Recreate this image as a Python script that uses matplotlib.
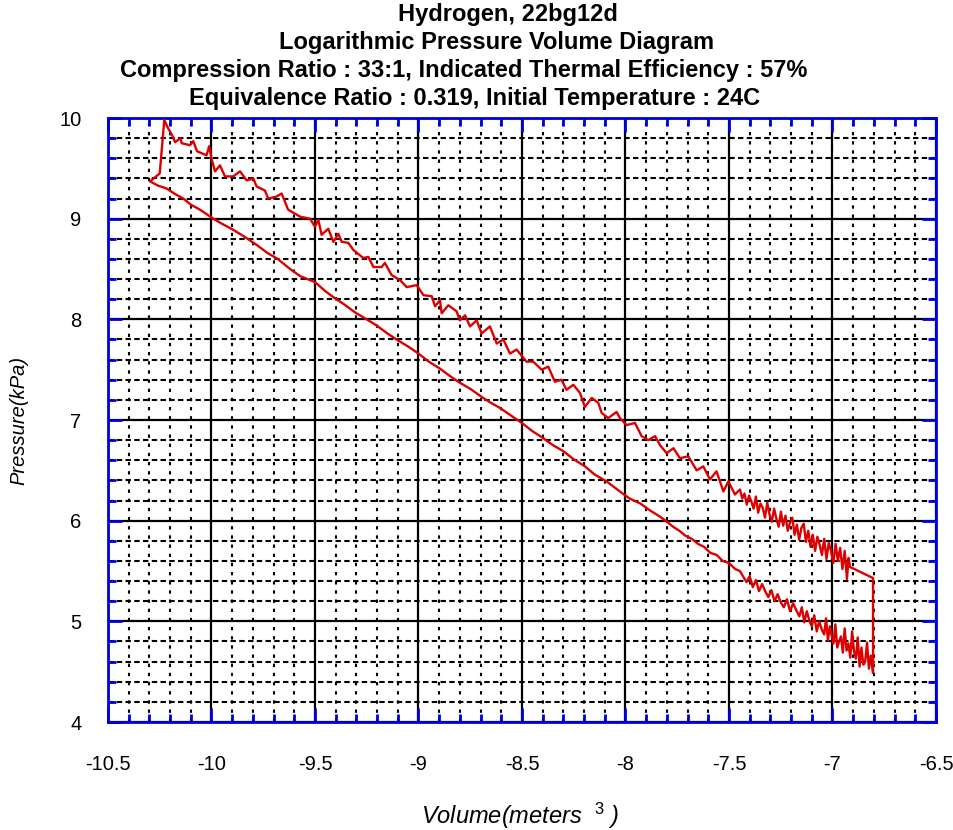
import numpy as np
import matplotlib
matplotlib.use('Agg')
import matplotlib.pyplot as plt
from matplotlib.ticker import MultipleLocator

plt.rcParams['font.family'] = ['Liberation Sans', 'DejaVu Sans']
plt.rcParams['axes.unicode_minus'] = False
plt.rcParams['mathtext.fontset'] = 'custom'
plt.rcParams['mathtext.rm'] = 'Liberation Sans'
plt.rcParams['mathtext.it'] = 'Liberation Sans:italic'

# Compresion, extremo derecho ruidoso (de derecha a izquierda)
comp_noisy_v = [-6.804, -6.815, -6.824, -6.833, -6.842, -6.851, -6.860, -6.869, -6.878,
                -6.887, -6.896, -6.905, -6.914, -6.923, -6.932, -6.941, -6.950, -6.959,
                -6.968, -6.977, -6.986, -6.995, -7.004, -7.013, -7.022, -7.031, -7.040,
                -7.052, -7.064, -7.076, -7.088, -7.100, -7.112, -7.124, -7.136, -7.148,
                -7.160, -7.175, -7.190, -7.205, -7.220, -7.235, -7.250, -7.265, -7.280,
                -7.295, -7.310, -7.325, -7.340, -7.355, -7.370, -7.385, -7.400, -7.415,
                -7.430, -7.447]
comp_noisy_p = [4.49, 4.66, 4.53, 4.79, 4.60, 4.57, 4.74, 4.55, 4.84, 4.63,
                4.70, 4.90, 4.64, 4.78, 4.71, 4.93, 4.69, 4.85, 4.80, 4.74,
                4.97, 4.78, 4.86, 4.95, 4.81, 5.03, 4.87, 4.92, 5.00, 4.90,
                5.06, 4.95, 5.01, 5.10, 4.99, 5.14, 5.05, 5.11, 5.18, 5.10,
                5.22, 5.14, 5.19, 5.27, 5.20, 5.31, 5.24, 5.30, 5.37, 5.30,
                5.41, 5.34, 5.45, 5.39, 5.44, 5.50]

# Compresion, resto de la curva
comp_v = [-7.470, -7.500, -7.530, -7.560, -7.590, -7.620, -7.650, -7.680, -7.710,
          -7.740, -7.770, -7.800, -7.833, -7.880, -7.928, -7.980, -8.027, -8.091,
          -8.150, -8.196, -8.250, -8.300, -8.350, -8.405, -8.450, -8.500, -8.550,
          -8.606, -8.650, -8.695, -8.750, -8.800, -8.850, -8.896, -8.950, -9.000,
          -9.050, -9.106, -9.150, -9.203, -9.250, -9.307, -9.360, -9.411, -9.450,
          -9.500, -9.572, -9.620, -9.680, -9.730, -9.782, -9.840, -9.895, -9.950,
          -9.991, -10.056, -10.100, -10.136, -10.180, -10.217, -10.260, -10.297]
comp_p = [5.52, 5.58, 5.60, 5.66, 5.68, 5.74, 5.77, 5.82, 5.85,
          5.90, 5.94, 5.99, 6.04, 6.10, 6.17, 6.22, 6.29, 6.39,
          6.46, 6.54, 6.61, 6.69, 6.75, 6.83, 6.89, 6.97, 7.04,
          7.12, 7.17, 7.23, 7.31, 7.37, 7.44, 7.51, 7.58, 7.66,
          7.73, 7.80, 7.86, 7.94, 8.00, 8.07, 8.15, 8.22, 8.28,
          8.37, 8.43, 8.50, 8.60, 8.66, 8.74, 8.82, 8.89, 8.95,
          9.00, 9.09, 9.14, 9.20, 9.25, 9.30, 9.33, 9.37]

# Combustion y expansion (de izquierda a derecha)
exp_v = [-10.250, -10.228, -10.210, -10.190, -10.176, -10.150, -10.144, -10.104,
         -10.088, -10.070, -10.024, -10.011, -10.000, -9.983, -9.959, -9.935,
         -9.895, -9.862, -9.830, -9.798, -9.782, -9.742, -9.726, -9.686, -9.661,
         -9.630, -9.572, -9.524, -9.500, -9.484, -9.468, -9.436, -9.411, -9.387,
         -9.371, -9.339, -9.315, -9.267, -9.242, -9.218, -9.178, -9.162, -9.130,
         -9.089, -9.057, -9.009, -8.976, -8.936, -8.920, -8.896, -8.888, -8.856,
         -8.816, -8.800, -8.775, -8.751, -8.719, -8.695, -8.655, -8.622, -8.590,
         -8.558, -8.526, -8.478, -8.446, -8.405, -8.373, -8.341, -8.309, -8.285,
         -8.252, -8.220, -8.196, -8.163, -8.131, -8.115, -8.083, -8.043, -8.027,
         -7.995, -7.954, -7.922, -7.890, -7.857, -7.833, -7.801, -7.768, -7.737,
         -7.697, -7.656, -7.624, -7.592, -7.560, -7.527, -7.503, -7.471]
exp_p = [9.45, 9.98, 9.90, 9.83, 9.76, 9.80, 9.75, 9.73,
         9.77, 9.67, 9.63, 9.72, 9.60, 9.47, 9.53, 9.42,
         9.42, 9.47, 9.38, 9.40, 9.32, 9.28, 9.20, 9.22, 9.25,
         9.09, 9.02, 9.00, 8.92, 8.99, 8.84, 8.90, 8.77, 8.85,
         8.77, 8.76, 8.69, 8.61, 8.62, 8.52, 8.52, 8.56, 8.44,
         8.39, 8.32, 8.34, 8.24, 8.23, 8.13, 8.19, 8.06, 8.14,
         8.08, 7.99, 8.04, 7.93, 7.99, 7.86, 7.93, 7.76, 7.80,
         7.66, 7.70, 7.58, 7.58, 7.50, 7.53, 7.38, 7.40, 7.30,
         7.35, 7.27, 7.13, 7.22, 7.17, 7.07, 7.02, 7.08, 7.02,
         6.95, 6.97, 6.84, 6.80, 6.84, 6.75, 6.67, 6.72, 6.62,
         6.64, 6.50, 6.54, 6.41, 6.49, 6.29, 6.39, 6.26]

# Expansion, extremo derecho ruidoso, y escape
exp_noisy_v = [-7.447, -7.436, -7.425, -7.414, -7.403, -7.392, -7.381, -7.370, -7.359,
               -7.348, -7.337, -7.326, -7.315, -7.304, -7.293, -7.282, -7.271, -7.260,
               -7.249, -7.238, -7.227, -7.216, -7.205, -7.194, -7.183, -7.172, -7.161,
               -7.150, -7.139, -7.128, -7.117, -7.106, -7.095, -7.084, -7.073, -7.062,
               -7.051, -7.040, -7.029, -7.018, -7.007, -6.996, -6.985, -6.974, -6.963,
               -6.952, -6.941, -6.930, -6.922, -6.915, -6.804, -6.804]
exp_noisy_p = [6.31, 6.22, 6.27, 6.16, 6.25, 6.19, 6.12, 6.24, 6.08, 6.17,
               6.13, 6.03, 6.18, 6.06, 5.99, 6.12, 6.02, 5.94, 6.09, 5.95,
               6.05, 5.90, 5.98, 6.03, 5.86, 5.96, 5.81, 5.93, 5.97, 5.79,
               5.90, 5.74, 5.86, 5.70, 5.84, 5.76, 5.66, 5.82, 5.62, 5.78,
               5.70, 5.58, 5.77, 5.60, 5.73, 5.52, 5.70, 5.42, 5.63, 5.54,
               5.43, 4.49]

vol = comp_noisy_v + comp_v + exp_v + exp_noisy_v
pres = comp_noisy_p + comp_p + exp_p + exp_noisy_p

xticks = [-10.5, -10, -9.5, -9, -8.5, -8, -7.5, -7, -6.5]
xlabels = ['-10.5', '-10', '-9.5', '-9', '-8.5', '-8', '-7.5', '-7', '-6.5']
yticks = [4, 5, 6, 7, 8, 9, 10]

title_lines = ['Hydrogen, 22bg12d',
               'Logarithmic Pressure Volume Diagram',
               'Compression Ratio : 33:1, Indicated Thermal Efficiency : 57%',
               'Equivalence Ratio : 0.319, Initial Temperature : 24C']

fig = plt.figure(figsize=(9.54, 8.3), dpi=100)
ax = fig.add_axes([0.1132, 0.1301, 0.8679, 0.7277])

ax.plot(vol, pres, color='#dd0000', lw=1.7, zorder=3)

ax.set_xlim(-10.5, -6.5)
ax.set_ylim(4, 10)
ax.set_xticks(xticks)
ax.set_xticklabels(xlabels)
ax.set_yticks(yticks)
ax.xaxis.set_minor_locator(MultipleLocator(0.1))
ax.yaxis.set_minor_locator(MultipleLocator(0.2))

# Rejilla: principal continua, secundaria punteada
ax.grid(which='major', color='black', lw=1.6, ls='-')
ax.xaxis.grid(which='minor', color='black', lw=1.5, ls=(0, (1.6, 2.8)))
ax.yaxis.grid(which='minor', color='black', lw=1.5, ls=(0, (2.6, 1.6)))
ax.set_axisbelow(True)

for s in ax.spines.values():
    s.set_color('#0000dd')
    s.set_linewidth(2)

ax.tick_params(which='both', direction='in', color='#0000dd', top=True, right=True,
               labelsize=14.5)
ax.tick_params(which='major', length=10, width=2)
ax.tick_params(which='minor', length=6, width=2)
ax.tick_params(axis='x', which='major', pad=24)
ax.tick_params(axis='y', which='major', pad=19)

# Etiquetas de los ejes
fig.text(520 / 954, 1 - 816 / 830, r'Volume(meters  $^{3}$ )', fontsize=17, style='italic',
         ha='center', va='center')
fig.text(19 / 954, 1 - 420 / 830, 'Pressure(kPa)', fontsize=14.5, style='italic',
         rotation=90, ha='center', va='center')

# Titulo, una linea por texto
centers_x = [508, 497, 464, 475]
centers_y = [15, 43, 71, 99]
for line, cx, cy in zip(title_lines, centers_x, centers_y):
    fig.text(cx / 954, 1 - cy / 830, line, fontsize=17, fontweight='bold',
             ha='center', va='center')

fig.savefig('out.png', dpi=100)
